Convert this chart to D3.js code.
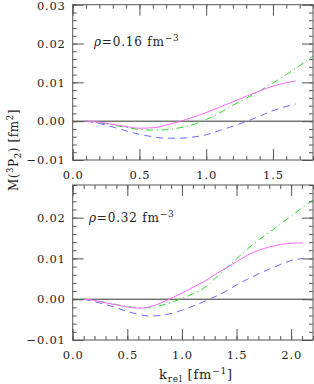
<!DOCTYPE html>
<html>
<head>
<meta charset="utf-8">
<script src="https://cdn.jsdelivr.net/npm/d3@7"></script>
<style>
  body { margin: 0; background: #fff; }
  svg text { font-family: "DejaVu Serif", serif; fill: #222; }
</style>
</head>
<body>
<div id="chart"></div>
<script>
// --- data ---
// top panel, rho = 0.16 fm^-3
const kTopShort = [0.1, 0.2, 0.3, 0.4, 0.5, 0.6, 0.7, 0.8, 0.9, 1.0, 1.1, 1.2, 1.3, 1.4, 1.5, 1.6, 1.67];
const topSolid  = [0, -0.0003, -0.0008, -0.0014, -0.0018, -0.0017, -0.0010, -0.0001, 0.0010, 0.0022, 0.0036, 0.0050, 0.0064, 0.0078, 0.0090, 0.0099, 0.0104];
const topDashed = [0, -0.0006, -0.0015, -0.0025, -0.0034, -0.0040, -0.0044, -0.0044, -0.0041, -0.0035, -0.0024, -0.0013, -0.0001, 0.0013, 0.0027, 0.0038, 0.0044];
const kTopLong  = [0.1, 0.2, 0.3, 0.4, 0.5, 0.6, 0.7, 0.8, 0.9, 1.0, 1.1, 1.2, 1.3, 1.4, 1.5, 1.6, 1.7, 1.8];
const topDashDot = [0, -0.0004, -0.0010, -0.0016, -0.0021, -0.0023, -0.0022, -0.0017, -0.0009, 0.0004, 0.0021, 0.0041, 0.0059, 0.0078, 0.0098, 0.0120, 0.0143, 0.0168];

// bottom panel, rho = 0.32 fm^-3
const kBotShort = [0.1, 0.2, 0.3, 0.4, 0.5, 0.6, 0.7, 0.8, 0.9, 1.0, 1.1, 1.2, 1.3, 1.4, 1.5, 1.6, 1.7, 1.8, 1.9, 2.0, 2.11];
const botSolid  = [0, -0.0003, -0.0009, -0.0014, -0.0019, -0.0022, -0.0019, -0.0010, 0.0002, 0.0015, 0.0029, 0.0043, 0.0060, 0.0076, 0.0092, 0.0108, 0.0120, 0.0128, 0.0134, 0.0137, 0.0138];
const botDashed = [0, -0.0006, -0.0013, -0.0021, -0.0030, -0.0037, -0.0041, -0.0040, -0.0035, -0.0027, -0.0017, -0.0006, 0.0006, 0.0019, 0.0035, 0.0049, 0.0062, 0.0074, 0.0085, 0.0095, 0.0100];
const kBotLong  = [0.1, 0.2, 0.3, 0.4, 0.5, 0.6, 0.7, 0.8, 0.9, 1.0, 1.1, 1.2, 1.3, 1.4, 1.5, 1.6, 1.7, 1.8, 1.9, 2.0, 2.1, 2.2];
const botDashDot = [0, -0.0003, -0.0008, -0.0013, -0.0018, -0.0021, -0.0021, -0.0016, -0.0008, 0.0002, 0.0013, 0.0027, 0.0050, 0.0075, 0.0099, 0.0123, 0.0145, 0.0164, 0.0184, 0.0204, 0.0224, 0.0243];

const topYTicks = [-0.01, 0.00, 0.01, 0.02, 0.03];
const botYTicks = [-0.01, 0.00, 0.01, 0.02];
const topXTicks = [0.0, 0.5, 1.0, 1.5];
const botXTicks = [0.0, 0.5, 1.0, 1.5, 2.0];

const W = 314, H = 384;
const left = 72.7, right = 313;

const svg = d3.select("#chart").append("svg")
  .attr("width", W).attr("height", H);

const clrSolid = "#ff66ff", clrDashed = "#6a6aff", clrDashDot = "#22e022";

function panel(cfg) {
  const x = d3.scaleLinear().domain(cfg.xDomain).range([left, right]);
  const y = d3.scaleLinear().domain(cfg.yDomain).range([cfg.bottom, cfg.top]);
  const g = svg.append("g");

  const clipId = "clip" + cfg.id;
  g.append("clipPath").attr("id", clipId).append("rect")
    .attr("x", left).attr("y", cfg.top)
    .attr("width", right - left).attr("height", cfg.bottom - cfg.top);

  // zero line
  g.append("line")
    .attr("x1", left).attr("x2", right)
    .attr("y1", y(0)).attr("y2", y(0))
    .attr("stroke", "#333").attr("stroke-width", 1);

  const line = d3.line().curve(d3.curveMonotoneX);
  const curves = [
    {k: cfg.kLong, v: cfg.dashDot, c: clrDashDot, dash: "7,3.5,1.2,3.5"},
    {k: cfg.kShort, v: cfg.dashed, c: clrDashed, dash: "7,5"},
    {k: cfg.kShort, v: cfg.solid, c: clrSolid, dash: null}
  ];
  curves.forEach(s => {
    g.append("path")
      .attr("clip-path", `url(#${clipId})`)
      .attr("d", line(s.k.map((k, i) => [x(k), y(s.v[i])])))
      .attr("fill", "none")
      .attr("stroke", s.c)
      .attr("stroke-width", 1)
      .attr("stroke-dasharray", s.dash);
  });

  // ticks on all four sides, pointing inward
  const minorX = d3.range(cfg.xDomain[0], cfg.xDomain[1] + 1e-9, 0.1);
  const minorY = d3.range(cfg.yDomain[0], cfg.yDomain[1] + 1e-9, 0.002);
  const majLen = 11, minLen = 4;
  const axes = [
    {ax: d3.axisBottom(x), tr: `translate(0,${cfg.bottom})`, major: cfg.xTicks, minor: minorX, labels: true, fmt: d3.format(".1f")},
    {ax: d3.axisTop(x), tr: `translate(0,${cfg.top})`, major: cfg.xTicks, minor: minorX, labels: false},
    {ax: d3.axisLeft(y), tr: `translate(${left},0)`, major: cfg.yTicks, minor: minorY, labels: true, fmt: d => d3.format(".2f")(d).replace("-", "\u2212")},
    {ax: d3.axisRight(y), tr: `translate(${right},0)`, major: cfg.yTicks, minor: minorY, labels: false}
  ];
  axes.forEach(a => {
    const gm = g.append("g").attr("transform", a.tr)
      .call(a.ax.tickValues(a.minor).tickSize(-minLen).tickFormat(""));
    gm.select(".domain").remove();
    gm.selectAll("line").attr("stroke", "#555");
    const gM = g.append("g").attr("transform", a.tr)
      .call(a.ax.tickValues(a.major).tickSize(-majLen)
        .tickFormat(a.labels ? a.fmt : ""));
    gM.select(".domain").remove();
    gM.selectAll("line").attr("stroke", "#555");
    gM.selectAll("text")
      .attr("font-size", 11.5)
      .attr("letter-spacing", 0.8)
      .attr("fill", "#222");
  });

  // frame
  g.append("rect")
    .attr("x", left).attr("y", cfg.top)
    .attr("width", right - left).attr("height", cfg.bottom - cfg.top)
    .attr("fill", "none").attr("stroke", "#555").attr("stroke-width", 1);

  // density label
  const lab = g.append("text")
    .attr("x", cfg.labelX).attr("y", cfg.labelY)
    .attr("font-size", 12).attr("letter-spacing", 0.8);
  lab.append("tspan").attr("font-style", "italic").text("\u03c1");
  lab.append("tspan").text("=" + cfg.rho + " fm");
  lab.append("tspan").attr("font-size", 9).attr("dy", -5).text("\u22123");

  return {x, y, g};
}

const p1 = panel({
  id: 1, top: 4.7, bottom: 160, xDomain: [0, 1.8], yDomain: [-0.01, 0.03],
  xTicks: topXTicks, yTicks: topYTicks,
  kShort: kTopShort, kLong: kTopLong, solid: topSolid, dashed: topDashed, dashDot: topDashDot,
  rho: "0.16", labelX: 94, labelY: 46
});
const p2 = panel({
  id: 2, top: 185, bottom: 340, xDomain: [0, 2.2], yDomain: [-0.01, 0.028],
  xTicks: botXTicks, yTicks: botYTicks,
  kShort: kBotShort, kLong: kBotLong, solid: botSolid, dashed: botDashed, dashDot: botDashDot,
  rho: "0.32", labelX: 89, labelY: 222
});

// labels sit outside the frame, ticks point inward
svg.selectAll(".tick text").each(function() {
  const t = d3.select(this);
  if (t.attr("dy") === "0.71em") t.attr("y", 11);
  else if (t.attr("dy") === "0.32em") t.attr("x", -7);
});
// keep the topmost label inside the page
svg.selectAll(".tick text").filter(function() { return this.textContent === "0.03"; })
  .attr("dy", "0.45em");

// x axis title
const xt = svg.append("text")
  .attr("x", 196).attr("y", 379)
  .attr("text-anchor", "middle").attr("font-size", 13).attr("letter-spacing", 0.8);
xt.append("tspan").text("k");
xt.append("tspan").attr("font-size", 9).attr("dy", 3).text("rel");
xt.append("tspan").attr("dy", -3).text(" [fm");
xt.append("tspan").attr("font-size", 9).attr("dy", -5).text("\u22121");
xt.append("tspan").attr("dy", 5).text("]");

// y axis title
const yt = svg.append("text")
  .attr("transform", "translate(18,150) rotate(-90)")
  .attr("text-anchor", "middle").attr("font-size", 12).attr("letter-spacing", 0.6);
yt.append("tspan").text("M(");
yt.append("tspan").attr("font-size", 8.5).attr("dy", -5).text("3");
yt.append("tspan").attr("dy", 5).text("P");
yt.append("tspan").attr("font-size", 8.5).attr("dy", 3).text("2");
yt.append("tspan").attr("dy", -3).text(") [fm");
yt.append("tspan").attr("font-size", 8.5).attr("dy", -5).text("2");
yt.append("tspan").attr("dy", 5).text("]");
</script>
</body>
</html>
